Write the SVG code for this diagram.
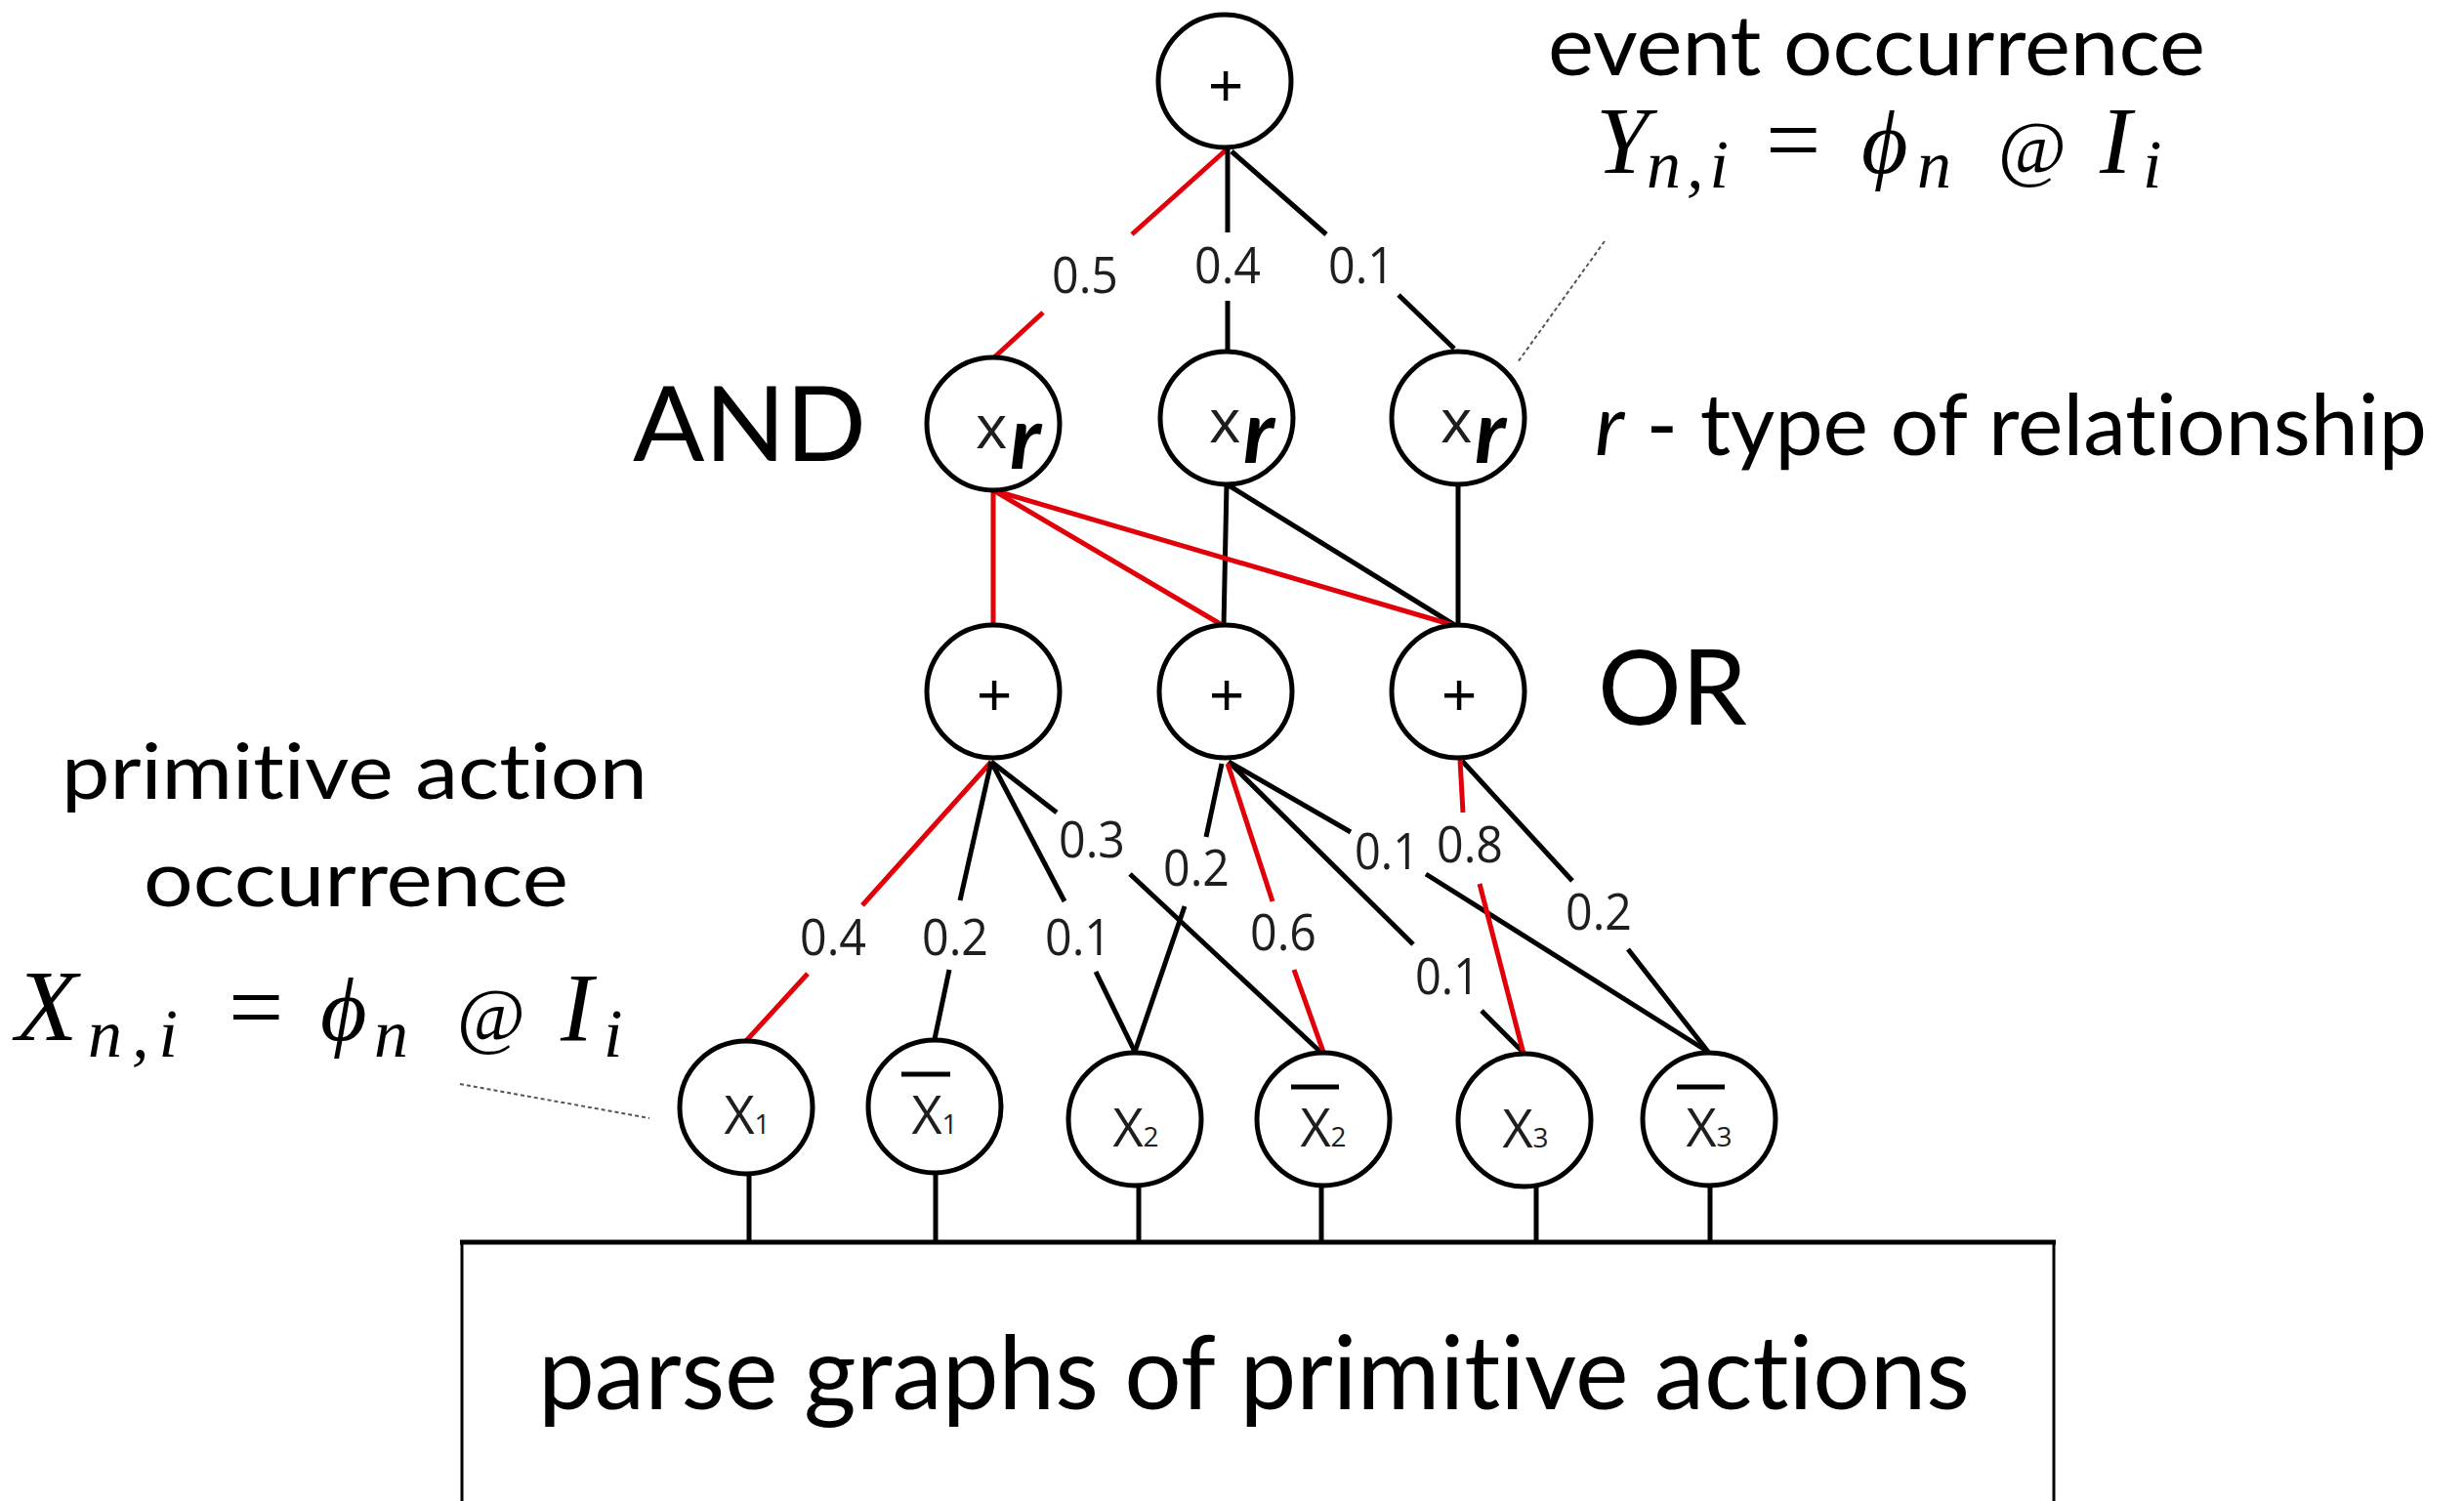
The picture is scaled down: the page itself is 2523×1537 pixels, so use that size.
<svg xmlns="http://www.w3.org/2000/svg" width="2523" height="1537" viewBox="0 0 2523 1537">
  <defs>
    <style>
      .node { fill: #fff; stroke: #000; stroke-width: 5; }
      .e { stroke: #000; stroke-width: 5; fill: none; stroke-linecap: butt; }
      .sel { stroke: #e1000a; }
      .w { font-family: "Open Sans", "DejaVu Sans", sans-serif; font-size: 52px; fill: #1e1e1e; text-anchor: middle; }
      .plus { font-family: "Liberation Sans", Arial, sans-serif; font-size: 62px; text-anchor: middle; fill: #000; }
      .leaf { font-family: "Open Sans", "DejaVu Sans", sans-serif; font-size: 54px; text-anchor: middle; fill: #1e1e1e; }
      .sub { font-size: 28px; }
      .bar { stroke: #000; stroke-width: 5; }
      .xr { font-family: "Open Sans", "DejaVu Sans", sans-serif; font-size: 62px; fill: #1e1e1e; }
      .rr { font-family: Lato, "Open Sans", sans-serif; font-style: italic; font-weight: 700; font-size: 90px; fill: #000; }
      .cap { font-family: Lato, "Open Sans", "DejaVu Sans", sans-serif; fill: #000; font-variant-ligatures: none; }
      .math { font-family: "Liberation Serif", "Times New Roman", serif; font-style: italic; fill: #000; }
      .up { font-style: normal; }
      .phi { font-family: "Liberation Serif", "DejaVu Serif", serif; }
      .lead { stroke: #555; stroke-width: 2; stroke-dasharray: 4 3; fill: none; }
      .stub { stroke: #000; stroke-width: 5; }
      .box { fill: #fff; stroke: #000; stroke-width: 3; }
    </style>
  </defs>

  <rect width="2523" height="1537" fill="#fff"/>

  <!-- connectors: edges of the AND-OR graph, gaps left for the weight labels -->
  <g id="connectors">
    <!-- root OR node to AND nodes -->
    <line class="e sel" x1="1256" y1="153" x2="1159" y2="240"/>
    <line class="e sel" x1="1068" y1="320" x2="1018" y2="366"/>
    <line class="e" x1="1257" y1="153" x2="1257" y2="238"/>
    <line class="e" x1="1257" y1="308" x2="1257" y2="359"/>
    <line class="e" x1="1261" y1="155" x2="1358" y2="240"/>
    <line class="e" x1="1432" y1="302" x2="1489" y2="357"/>

    <!-- AND nodes to OR nodes -->
    <line class="e" x1="1256" y1="496" x2="1253" y2="641"/>
    <line class="e" x1="1258" y1="497" x2="1491" y2="641"/>
    <line class="e" x1="1493" y1="496" x2="1493" y2="641"/>
    <line class="e sel" x1="1017" y1="502" x2="1017" y2="641"/>
    <line class="e sel" x1="1017" y1="502" x2="1253" y2="641"/>
    <line class="e sel" x1="1017" y1="502" x2="1491" y2="641" stroke-width="6"/>

    <!-- OR node 1 to primitives -->
    <line class="e sel" x1="1015" y1="780" x2="883" y2="927"/>
    <line class="e sel" x1="827" y1="997" x2="762" y2="1068"/>
    <line class="e" x1="1015" y1="780" x2="983" y2="922"/>
    <line class="e" x1="972" y1="993" x2="957" y2="1064"/>
    <line class="e" x1="1015" y1="780" x2="1090" y2="923"/>
    <line class="e" x1="1122" y1="995" x2="1162" y2="1077"/>
    <line class="e" x1="1015" y1="780" x2="1082" y2="832"/>
    <line class="e" x1="1157" y1="895" x2="1353" y2="1078"/>

    <!-- OR node 2 to primitives -->
    <line class="e" x1="1251" y1="782" x2="1235" y2="857"/>
    <line class="e" x1="1213" y1="928" x2="1162" y2="1077"/>
    <line class="e" x1="1258" y1="780" x2="1447" y2="967"/>
    <line class="e" x1="1517" y1="1035" x2="1561" y2="1079"/>
    <line class="e" x1="1258" y1="780" x2="1383" y2="852"/>
    <line class="e" x1="1460" y1="895" x2="1749" y2="1077"/>
    <line class="e sel" x1="1257" y1="782" x2="1303" y2="923"/>
    <line class="e sel" x1="1325" y1="993" x2="1355" y2="1077"/>

    <!-- OR node 3 to primitives -->
    <line class="e" x1="1497" y1="779" x2="1610" y2="902"/>
    <line class="e" x1="1667" y1="972" x2="1749" y2="1077"/>
    <line class="e sel" x1="1495" y1="778" x2="1498" y2="832"/>
    <line class="e sel" x1="1515" y1="905" x2="1560" y2="1079"/>

    <!-- primitives down to the parse-graph layer -->
    <line class="stub" x1="767" y1="1192" x2="767" y2="1277"/>
    <line class="stub" x1="958" y1="1192" x2="958" y2="1277"/>
    <line class="stub" x1="1166" y1="1200" x2="1166" y2="1272"/>
    <line class="stub" x1="1353" y1="1198" x2="1353" y2="1272"/>
    <line class="stub" x1="1573" y1="1198" x2="1573" y2="1272"/>
    <line class="stub" x1="1751" y1="1200" x2="1751" y2="1272"/>

    <!-- edge weights -->
    <g id="weights">
      <text class="w" x="1111" y="300" textLength="68" lengthAdjust="spacingAndGlyphs">0.5</text>
      <text class="w" x="1257" y="290" textLength="68" lengthAdjust="spacingAndGlyphs">0.4</text>
      <text class="w" x="1394" y="290" textLength="68" lengthAdjust="spacingAndGlyphs">0.1</text>

      <text class="w" x="853" y="978" textLength="68" lengthAdjust="spacingAndGlyphs">0.4</text>
      <text class="w" x="978" y="978" textLength="68" lengthAdjust="spacingAndGlyphs">0.2</text>
      <text class="w" x="1104" y="978" textLength="68" lengthAdjust="spacingAndGlyphs">0.1</text>
      <text class="w" x="1118" y="878" textLength="68" lengthAdjust="spacingAndGlyphs">0.3</text>
      <text class="w" x="1225" y="907" textLength="68" lengthAdjust="spacingAndGlyphs">0.2</text>
      <text class="w" x="1314" y="973" textLength="68" lengthAdjust="spacingAndGlyphs">0.6</text>
      <text class="w" x="1482" y="1018" textLength="66" lengthAdjust="spacingAndGlyphs">0.1</text>
      <text class="w" x="1420" y="890" textLength="66" lengthAdjust="spacingAndGlyphs">0.1</text>
      <text class="w" x="1505" y="883" textLength="68" lengthAdjust="spacingAndGlyphs">0.8</text>
      <text class="w" x="1637" y="952" textLength="68" lengthAdjust="spacingAndGlyphs">0.2</text>
    </g>

    <!-- dotted leaders from the annotations -->
    <line class="lead" x1="1643" y1="247" x2="1554" y2="371"/>
    <line class="lead" x1="471" y1="1110" x2="665" y2="1145"/>
  </g>

  <!-- root OR node -->
  <g id="or-root">
    <circle class="node" cx="1254" cy="83" r="68"/>
    <text class="plus" x="1255" y="108">+</text>
  </g>

  <!-- AND nodes -->
  <g id="and-1">
    <circle class="node" cx="1017" cy="434" r="68"/>
    <text class="xr" x="999" y="459">x</text>
    <text class="rr" x="1034" y="480">r</text>
  </g>
  <g id="and-2">
    <circle class="node" cx="1256" cy="428" r="68"/>
    <text class="xr" x="1238" y="453">x</text>
    <text class="rr" x="1273" y="474">r</text>
  </g>
  <g id="and-3">
    <circle class="node" cx="1493" cy="428" r="68"/>
    <text class="xr" x="1475" y="453">x</text>
    <text class="rr" x="1510" y="474">r</text>
  </g>

  <!-- OR nodes -->
  <g id="or-1">
    <circle class="node" cx="1017" cy="708" r="68"/>
    <text class="plus" x="1018" y="732">+</text>
  </g>
  <g id="or-2">
    <circle class="node" cx="1255" cy="708" r="68"/>
    <text class="plus" x="1256" y="732">+</text>
  </g>
  <g id="or-3">
    <circle class="node" cx="1493" cy="708" r="68"/>
    <text class="plus" x="1494" y="732">+</text>
  </g>

  <!-- primitive action nodes -->
  <g id="x1">
    <circle class="node" cx="764" cy="1134" r="68"/>
    <text class="leaf" x="765" y="1161">X<tspan class="sub">1</tspan></text>
  </g>
  <g id="x1-neg">
    <circle class="node" cx="957" cy="1133" r="68"/>
    <line class="bar" x1="923" y1="1100" x2="973" y2="1100"/>
    <text class="leaf" x="957" y="1161">X<tspan class="sub">1</tspan></text>
  </g>
  <g id="x2">
    <circle class="node" cx="1162" cy="1146" r="68"/>
    <text class="leaf" x="1163" y="1174">X<tspan class="sub">2</tspan></text>
  </g>
  <g id="x2-neg">
    <circle class="node" cx="1355" cy="1146" r="68"/>
    <line class="bar" x1="1322" y1="1113" x2="1371" y2="1113"/>
    <text class="leaf" x="1355" y="1174">X<tspan class="sub">2</tspan></text>
  </g>
  <g id="x3">
    <circle class="node" cx="1561" cy="1147" r="68"/>
    <text class="leaf" x="1562" y="1175">X<tspan class="sub">3</tspan></text>
  </g>
  <g id="x3-neg">
    <circle class="node" cx="1750" cy="1146" r="68"/>
    <line class="bar" x1="1717" y1="1113" x2="1766" y2="1113"/>
    <text class="leaf" x="1750" y="1174">X<tspan class="sub">3</tspan></text>
  </g>

  <!-- parse-graph layer -->
  <g id="parse-graphs">
    <rect class="box" x="473" y="1272" width="1630" height="280"/>
    <line x1="471" y1="1272" x2="2105" y2="1272" stroke="#000" stroke-width="5"/>
    <text class="cap" x="551" y="1443" font-size="105" textLength="1466" lengthAdjust="spacingAndGlyphs">parse graphs of primitive actions</text>
  </g>

  <!-- annotations -->
  <g id="label-and">
    <text class="cap" x="648" y="472" font-size="107" textLength="239" lengthAdjust="spacingAndGlyphs">AND</text>
  </g>
  <g id="label-or">
    <text class="cap" x="1636" y="742" font-size="107" textLength="153" lengthAdjust="spacingAndGlyphs">OR</text>
  </g>
  <g id="label-relationship">
    <text class="cap" x="1633" y="466" font-size="88" textLength="852" lengthAdjust="spacingAndGlyphs"><tspan font-style="italic">r</tspan> - type of relationship</text>
  </g>

  <g id="label-event">
    <text class="cap" x="1585" y="77" font-size="85" textLength="673" lengthAdjust="spacingAndGlyphs">event occurrence</text>
    <g class="math">
      <text x="1634" y="177" font-size="98">Y</text>
      <text x="1686" y="192" font-size="70" textLength="84" lengthAdjust="spacing">n,i</text>
      <text class="up" x="1808" y="177" font-size="100">=</text>
      <text class="phi" x="1906" y="177" font-size="92">ϕ</text>
      <text x="1963" y="192" font-size="70">n</text>
      <text class="up" x="2046" y="177" font-size="76">@</text>
      <text x="2150" y="177" font-size="98">I</text>
      <text x="2194" y="192" font-size="70">i</text>
    </g>
  </g>

  <g id="label-primitive">
    <text class="cap" x="63" y="818" font-size="80" textLength="600" lengthAdjust="spacingAndGlyphs">primitive action</text>
    <text class="cap" x="147" y="928" font-size="80" textLength="435" lengthAdjust="spacingAndGlyphs">occurrence</text>
    <g class="math">
      <text x="16" y="1065" font-size="104">X</text>
      <text x="90" y="1082" font-size="70" textLength="92" lengthAdjust="spacing">n,i</text>
      <text class="up" x="234" y="1065" font-size="100">=</text>
      <text class="phi" x="328" y="1065" font-size="92">ϕ</text>
      <text x="383" y="1082" font-size="70">n</text>
      <text class="up" x="468" y="1065" font-size="76">@</text>
      <text x="574" y="1065" font-size="100">I</text>
      <text x="618" y="1082" font-size="70">i</text>
    </g>
  </g>
</svg>
